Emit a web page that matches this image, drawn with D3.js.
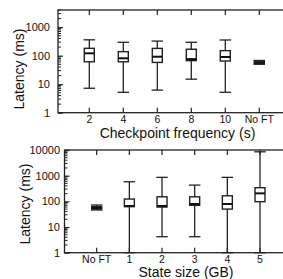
<!DOCTYPE html>
<html>
<head>
<meta charset="utf-8">
<script src="https://cdn.jsdelivr.net/npm/d3@7/dist/d3.min.js"></script>
<style>
  html, body { margin: 0; padding: 0; background: #fff; }
  svg { display: block; }
  text { font-family: "Liberation Sans", Arial, Helvetica, sans-serif; fill: #111; }
</style>
</head>
<body>
<svg id="chart" width="283" height="279"></svg>
<script>
// ---- Data ----
const topCats = ["2", "4", "6", "8", "10", "No FT"];
const topWhiskerLow = [7.2, 5.2, 6.2, 15, 5.2, 50];
const topQ1 = [61, 61, 58, 67, 65, 53];
const topMedian = [121, 81, 92, 76, 90, 59];
const topQ3 = [181, 138, 180, 168, 150, 66];
const topWhiskerHigh = [360, 295, 325, 295, 355, 68];

const bottomCats = ["No FT", "1", "2", "3", "4", "5"];
const bottomWhiskerLow = [46, 1, 4.2, 4.2, 1, 1];
const bottomQ1 = [50, 62, 60, 70, 50, 97];
const bottomMedian = [55, 66, 66, 79, 79, 205];
const bottomQ3 = [62, 123, 150, 150, 165, 340];
const bottomWhiskerHigh = [72, 580, 860, 430, 860, 8500];

const topYTicks = [1, 10, 100, 1000];
const bottomYTicks = [1, 10, 100, 1000, 10000];

const svg = d3.select("#chart");
const lineColor = "#222";

function panel(cfg) {
  const { cats, lo, q1, med, q3, hi, yTicks, yDomain,
          left, top, bottom, right, xRange, labelPad,
          xLabel, xLabelPos, yLabelPos, tickLabelY } = cfg;

  const x = d3.scalePoint().domain(cats).range(xRange);
  const y = d3.scaleLog().domain(yDomain).range([bottom, top]);

  const g = svg.append("g");

  // frame
  g.append("rect")
    .attr("x", left).attr("y", top)
    .attr("width", right - left).attr("height", bottom - top)
    .attr("fill", "none").attr("stroke", lineColor).attr("stroke-width", 1.3);

  // minor y ticks
  const minor = y.ticks().filter(v => !yTicks.includes(v));
  g.selectAll(".minor").data(minor).join("line")
    .attr("x1", left).attr("x2", left + 3)
    .attr("y1", d => y(d)).attr("y2", d => y(d))
    .attr("stroke", lineColor).attr("stroke-width", 1);

  // major y ticks + labels
  const yAxis = d3.axisLeft(y).tickValues(yTicks).tickFormat(d3.format("d"))
    .tickSize(-5).tickPadding(labelPad);
  const ya = g.append("g").attr("transform", `translate(${left},0)`).call(yAxis);
  ya.select(".domain").remove();
  ya.selectAll("line").attr("stroke", lineColor).attr("stroke-width", 1.2);
  ya.selectAll("text").attr("font-size", 11).attr("fill", "#111")
    .attr("font-family", "Liberation Sans, Arial, sans-serif");

  // x ticks (inward at bottom and top)
  g.selectAll(".xtb").data(cats).join("line")
    .attr("x1", d => x(d)).attr("x2", d => x(d))
    .attr("y1", bottom).attr("y2", bottom - 5)
    .attr("stroke", lineColor).attr("stroke-width", 1.2);
  g.selectAll(".xtt").data(cats).join("line")
    .attr("x1", d => x(d)).attr("x2", d => x(d))
    .attr("y1", top).attr("y2", top + 5)
    .attr("stroke", lineColor).attr("stroke-width", 1.2);

  // x tick labels
  g.selectAll(".xl").data(cats).join("text")
    .attr("x", d => x(d)).attr("y", tickLabelY)
    .attr("text-anchor", "middle").attr("font-size", 10.5)
    .text(d => d);

  // boxes
  const boxW = 10, capW = 11.5;
  cats.forEach((c, i) => {
    const cx = x(c);
    g.append("line")
      .attr("x1", cx).attr("x2", cx)
      .attr("y1", y(lo[i])).attr("y2", y(hi[i]))
      .attr("stroke", lineColor).attr("stroke-width", 1.3);
    [lo[i], hi[i]].forEach(v => {
      g.append("line")
        .attr("x1", cx - capW / 2).attr("x2", cx + capW / 2)
        .attr("y1", y(v)).attr("y2", y(v))
        .attr("stroke", lineColor).attr("stroke-width", 1.3);
    });
    g.append("rect")
      .attr("x", cx - boxW / 2).attr("width", boxW)
      .attr("y", y(q3[i])).attr("height", y(q1[i]) - y(q3[i]))
      .attr("fill", "#fff").attr("stroke", lineColor).attr("stroke-width", 1.4);
    g.append("line")
      .attr("x1", cx - boxW / 2).attr("x2", cx + boxW / 2)
      .attr("y1", y(med[i])).attr("y2", y(med[i]))
      .attr("stroke", "#111").attr("stroke-width", 2);
  });

  // axis labels
  g.append("text")
    .attr("x", xLabelPos[0]).attr("y", xLabelPos[1])
    .attr("text-anchor", "middle").attr("font-size", 14)
    .text(xLabel);
  g.append("text")
    .attr("transform", `translate(${yLabelPos[0]},${yLabelPos[1]}) rotate(-90)`)
    .attr("text-anchor", "middle").attr("font-size", 14)
    .text("Latency (ms)");
}

panel({
  cats: topCats, lo: topWhiskerLow, q1: topQ1, med: topMedian, q3: topQ3, hi: topWhiskerHigh,
  yTicks: topYTicks, yDomain: [1, 4000],
  left: 58, top: 10, bottom: 112.7, right: 300,
  xRange: [89.3, 259.3], labelPad: 8,
  xLabel: "Checkpoint frequency (s)", xLabelPos: [177.5, 138.3],
  yLabelPos: [24, 69], tickLabelY: 123
});

panel({
  cats: bottomCats, lo: bottomWhiskerLow, q1: bottomQ1, med: bottomMedian, q3: bottomQ3, hi: bottomWhiskerHigh,
  yTicks: bottomYTicks, yDomain: [1, 10000],
  left: 64.5, top: 150, bottom: 252.7, right: 300,
  xRange: [96.7, 260], labelPad: 4.5,
  xLabel: "State size (GB)", xLabelPos: [186, 276.5],
  yLabelPos: [30, 204], tickLabelY: 262.5
});
</script>
</body>
</html>
